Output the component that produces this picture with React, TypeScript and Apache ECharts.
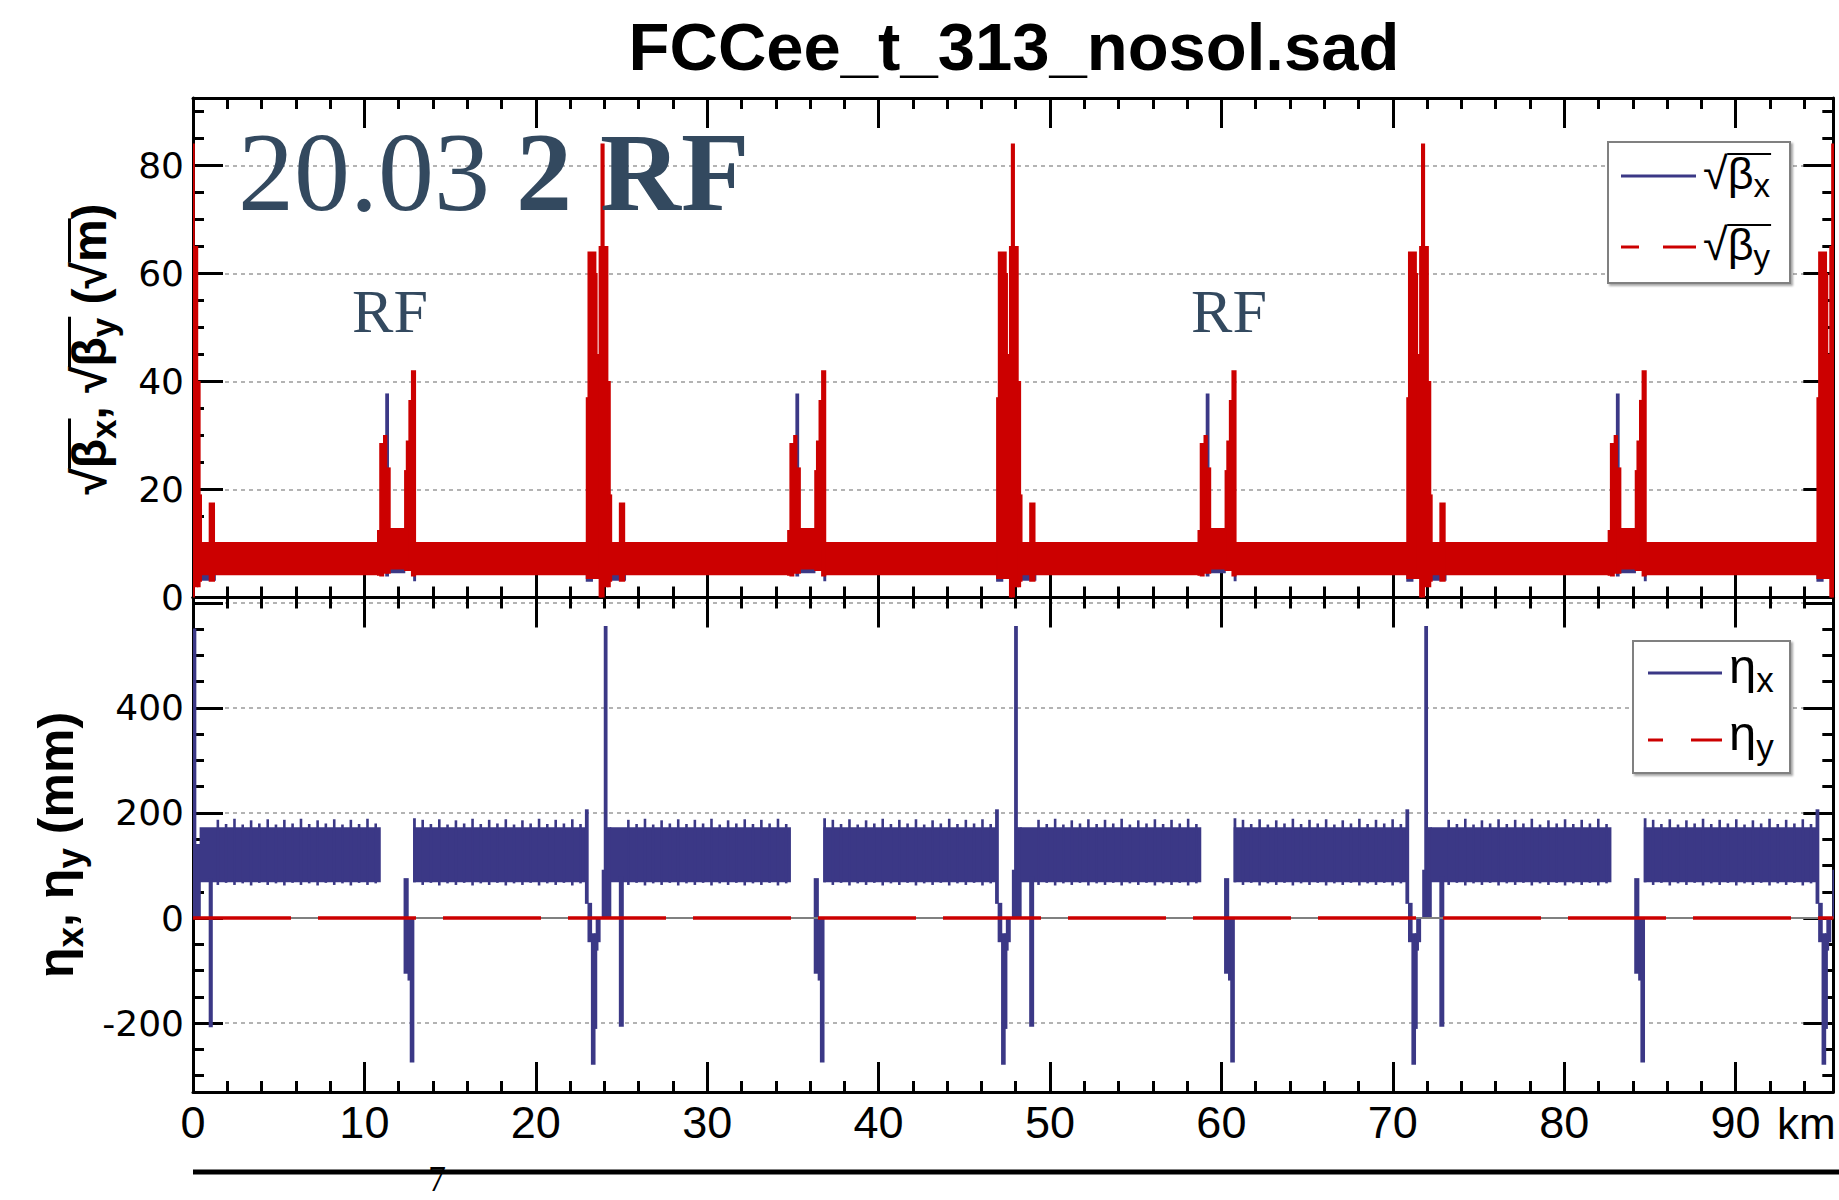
import React, { useEffect, useRef } from 'react';
import * as echarts from 'echarts';

const BLUE = '#3b3886';
const RED = '#cc0000';
const NAVY = '#33495f';

const X_MAX = 95.7;
const X_TICKS = [0, 10, 20, 30, 40, 50, 60, 70, 80, 90];
const Y1_TICKS = [0, 20, 40, 60, 80];
const Y2_TICKS = [-200, 0, 200, 400, 600];
const Y2_LABELS = [-200, 0, 200, 400];

// envelope blocks: [s from (km), s to (km), lower value, upper value]
const SQRT_BETA_Y: number[][] = [
  [0.0, 0.05, 0, 84], [0.05, 0.27, 2, 65], [0.27, 0.41, 2, 40], [0.41, 0.48, 3, 19],
  [0.45, 10.77, 4.2, 10.2], [0.95, 1.25, 3, 17.5],
  [10.77, 10.9, 4.1, 12.4], [10.9, 11.12, 4.0, 28.5], [11.12, 11.3, 4.5, 30], [11.3, 11.5, 4.5, 24],
  [11.5, 12.35, 5.3, 12.8], [12.35, 12.45, 5, 23.5], [12.45, 12.6, 5, 29], [12.6, 12.75, 5, 36.5], [12.75, 12.98, 4, 42],
  [12.98, 22.95, 4.2, 10.2],
  [22.95, 23.05, 3.5, 37], [23.05, 23.5, 3.5, 64], [23.5, 23.55, 3.5, 60], [23.55, 23.7, 3.5, 45], [23.7, 23.81, 0, 65], [23.81, 23.98, 0, 84],
  [23.98, 24.2, 2, 65], [24.2, 24.34, 2, 40], [24.34, 24.41, 3, 19],
  [24.38, 34.7, 4.2, 10.2], [24.88, 25.18, 3, 17.5],
  [34.7, 34.83, 4.1, 12.4], [34.83, 35.05, 4.0, 28.5], [35.05, 35.23, 4.5, 30], [35.23, 35.43, 4.5, 24],
  [35.43, 36.28, 5.3, 12.8], [36.28, 36.38, 5, 23.5], [36.38, 36.53, 5, 29], [36.53, 36.68, 5, 36.5], [36.68, 36.91, 4, 42],
  [36.91, 46.89, 4.2, 10.2],
  [46.89, 46.99, 3.5, 37], [46.99, 47.44, 3.5, 64], [47.44, 47.49, 3.5, 60], [47.49, 47.64, 3.5, 45], [47.64, 47.75, 0, 65], [47.75, 47.92, 0, 84],
  [47.92, 48.14, 2, 65], [48.14, 48.28, 2, 40], [48.28, 48.35, 3, 19],
  [48.32, 58.64, 4.2, 10.2], [48.82, 49.12, 3, 17.5],
  [58.64, 58.77, 4.1, 12.4], [58.77, 58.99, 4.0, 28.5], [58.99, 59.17, 4.5, 30], [59.17, 59.37, 4.5, 24],
  [59.37, 60.22, 5.3, 12.8], [60.22, 60.32, 5, 23.5], [60.32, 60.47, 5, 29], [60.47, 60.62, 5, 36.5], [60.62, 60.85, 4, 42],
  [60.85, 70.82, 4.2, 10.2],
  [70.82, 70.92, 3.5, 37], [70.92, 71.37, 3.5, 64], [71.37, 71.42, 3.5, 60], [71.42, 71.57, 3.5, 45], [71.57, 71.68, 0, 65], [71.68, 71.85, 0, 84],
  [71.85, 72.07, 2, 65], [72.07, 72.21, 2, 40], [72.21, 72.28, 3, 19],
  [72.25, 82.57, 4.2, 10.2], [72.75, 73.05, 3, 17.5],
  [82.57, 82.7, 4.1, 12.4], [82.7, 82.92, 4.0, 28.5], [82.92, 83.1, 4.5, 30], [83.1, 83.3, 4.5, 24],
  [83.3, 84.15, 5.3, 12.8], [84.15, 84.25, 5, 23.5], [84.25, 84.4, 5, 29], [84.4, 84.55, 5, 36.5], [84.55, 84.78, 4, 42],
  [84.78, 94.75, 4.2, 10.2],
  [94.75, 94.85, 3.5, 37], [94.85, 95.3, 3.5, 64], [95.3, 95.35, 3.5, 60], [95.35, 95.5, 3.5, 45], [95.5, 95.61, 0, 65], [95.61, 95.78, 0, 84],
];

const SQRT_BETA_X: number[][] = [
  [0.45, 1.3, 3.2, 5], [11.25, 11.4, 4, 37.7], [11.5, 12.35, 4.6, 6], [12.88, 12.98, 3.1, 8], [22.95, 23.3, 3.0, 5], [23.43, 23.53, 15, 44],
  [24.38, 25.23, 3.2, 5], [35.18, 35.33, 4, 37.7], [35.43, 36.28, 4.6, 6], [36.81, 36.91, 3.1, 8], [46.89, 47.24, 3.0, 5], [47.37, 47.47, 15, 44],
  [48.32, 49.17, 3.2, 5], [59.12, 59.27, 4, 37.7], [59.37, 60.22, 4.6, 6], [60.75, 60.85, 3.1, 8], [70.82, 71.17, 3.0, 5], [71.3, 71.4, 15, 44],
  [72.25, 73.1, 3.2, 5], [83.05, 83.2, 4, 37.7], [83.3, 84.15, 4.6, 6], [84.68, 84.78, 3.1, 8], [94.75, 95.1, 3.0, 5], [95.23, 95.33, 15, 44],
];

const ETA_X: number[][] = [
  [0.03, 0.16, 0, 550], [0.16, 0.42, 2, 140], [0.42, 10.92, 69, 172], [0.95, 1.12, -207, 75],
  [12.32, 12.55, -105, 75], [12.55, 12.68, -118, 0], [12.68, 12.88, -274, 0],
  [12.88, 22.9, 69, 172], [12.88, 12.96, 69, 189],
  [22.9, 23.05, 28, 206], [23.05, 23.25, -45, 28], [23.25, 23.45, -278, -30], [23.45, 23.55, -210, -30],
  [23.55, 23.6, -61, 0], [23.68, 23.72, -45, 0], [23.88, 23.99, 0, 91],
  [24.0, 24.15, 0, 555], [24.15, 24.37, 2, 172], [24.37, 34.85, 69, 172], [24.88, 25.1, -206, 78],
  [36.25, 36.48, -105, 75], [36.48, 36.61, -118, 0], [36.61, 36.81, -274, 0],
  [36.81, 46.83, 69, 172], [36.81, 36.89, 69, 189],
  [46.83, 46.98, 28, 206], [46.98, 47.18, -45, 28], [47.18, 47.38, -278, -30], [47.38, 47.48, -210, -30],
  [47.48, 47.53, -61, 0], [47.61, 47.65, -45, 0], [47.81, 47.92, 0, 91],
  [47.94, 48.09, 0, 555], [48.09, 48.31, 2, 172], [48.31, 58.79, 69, 172], [48.82, 49.04, -206, 78],
  [60.19, 60.42, -105, 75], [60.42, 60.55, -118, 0], [60.55, 60.75, -274, 0],
  [60.75, 70.77, 69, 172], [60.75, 60.83, 69, 189],
  [70.77, 70.92, 28, 206], [70.92, 71.12, -45, 28], [71.12, 71.32, -278, -30], [71.32, 71.42, -210, -30],
  [71.42, 71.47, -61, 0], [71.55, 71.59, -45, 0], [71.75, 71.86, 0, 91],
  [71.87, 72.02, 0, 555], [72.02, 72.24, 2, 172], [72.24, 82.72, 69, 172], [72.75, 72.97, -206, 78],
  [84.12, 84.35, -105, 75], [84.35, 84.48, -118, 0], [84.48, 84.68, -274, 0],
  [84.68, 94.7, 69, 172], [84.68, 84.76, 69, 189],
  [94.7, 94.85, 28, 206], [94.85, 95.05, -45, 28], [95.05, 95.25, -278, -30], [95.25, 95.35, -210, -30],
  [95.35, 95.4, -61, 0], [95.48, 95.52, -45, 0], [95.68, 95.79, 0, 91],
];

// arc cell peaks of eta_x (ragged band edges): [s (km), low, high]
const ETA_X_CELLS: number[][] = [
  [1.45, 63, 187], [1.93, 67, 179], [2.42, 63, 189], [2.9, 66, 178], [3.39, 62, 186], [3.87, 67, 180], [4.36, 63, 188], [4.84, 66, 178],
  [5.33, 62, 187], [5.81, 67, 180], [6.3, 63, 189], [6.78, 66, 179], [7.27, 62, 186], [7.75, 67, 180], [8.24, 63, 188], [8.72, 66, 178],
  [9.21, 62, 187], [9.69, 67, 179], [10.18, 63, 189], [10.66, 66, 180],
  [13.4, 63, 187], [13.88, 67, 179], [14.37, 62, 188], [14.85, 66, 178], [15.34, 63, 186], [15.82, 67, 180], [16.31, 62, 189], [16.79, 66, 179],
  [17.28, 63, 187], [17.76, 67, 180], [18.25, 62, 188], [18.73, 66, 178], [19.22, 63, 186], [19.7, 67, 180], [20.19, 62, 189], [20.67, 66, 179],
  [21.16, 63, 187], [21.64, 67, 180], [22.13, 62, 188], [22.61, 66, 179],
  [25.4, 63, 187], [25.88, 67, 179], [26.37, 62, 189], [26.85, 66, 178], [27.34, 63, 186], [27.82, 67, 180], [28.31, 62, 188], [28.79, 66, 179],
  [29.28, 63, 187], [29.76, 67, 180], [30.25, 62, 189], [30.73, 66, 178], [31.22, 63, 186], [31.7, 67, 180], [32.19, 62, 188], [32.67, 66, 179],
  [33.16, 63, 187], [33.64, 67, 180], [34.13, 62, 189], [34.61, 66, 179],
  [37.33, 63, 187], [37.81, 67, 179], [38.3, 62, 188], [38.78, 66, 178], [39.27, 63, 186], [39.75, 67, 180], [40.24, 62, 189], [40.72, 66, 179],
  [41.21, 63, 187], [41.69, 67, 180], [42.18, 62, 188], [42.66, 66, 178], [43.15, 63, 186], [43.63, 67, 180], [44.12, 62, 189], [44.6, 66, 179],
  [45.09, 63, 187], [45.57, 67, 180], [46.06, 62, 188], [46.54, 66, 179],
  [49.33, 63, 187], [49.81, 67, 179], [50.3, 62, 189], [50.78, 66, 178], [51.27, 63, 186], [51.75, 67, 180], [52.24, 62, 188], [52.72, 66, 179],
  [53.21, 63, 187], [53.69, 67, 180], [54.18, 62, 189], [54.66, 66, 178], [55.15, 63, 186], [55.63, 67, 180], [56.12, 62, 188], [56.6, 66, 179],
  [57.09, 63, 187], [57.57, 67, 180], [58.06, 62, 189], [58.54, 66, 179],
  [61.26, 63, 187], [61.74, 67, 179], [62.23, 62, 188], [62.71, 66, 178], [63.2, 63, 186], [63.68, 67, 180], [64.17, 62, 189], [64.65, 66, 179],
  [65.14, 63, 187], [65.62, 67, 180], [66.11, 62, 188], [66.59, 66, 178], [67.08, 63, 186], [67.56, 67, 180], [68.05, 62, 189], [68.53, 66, 179],
  [69.02, 63, 187], [69.5, 67, 180], [69.99, 62, 188], [70.47, 66, 179],
  [73.26, 63, 187], [73.74, 67, 179], [74.23, 62, 189], [74.71, 66, 178], [75.2, 63, 186], [75.68, 67, 180], [76.17, 62, 188], [76.65, 66, 179],
  [77.14, 63, 187], [77.62, 67, 180], [78.11, 62, 189], [78.59, 66, 178], [79.08, 63, 186], [79.56, 67, 180], [80.05, 62, 188], [80.53, 66, 179],
  [81.02, 63, 187], [81.5, 67, 180], [81.99, 62, 189], [82.47, 66, 179],
  [85.19, 63, 187], [85.67, 67, 179], [86.16, 62, 188], [86.64, 66, 178], [87.13, 63, 186], [87.61, 67, 180], [88.1, 62, 189], [88.58, 66, 179],
  [89.07, 63, 187], [89.55, 67, 180], [90.04, 62, 188], [90.52, 66, 178], [91.01, 63, 186], [91.49, 67, 180], [91.98, 62, 189], [92.46, 66, 179],
  [92.95, 63, 187], [93.43, 67, 180], [93.92, 62, 188], [94.4, 66, 179],
];

const ETA_Y: number[][] = [[0, 0], [X_MAX, 0]];

let measureCtx: CanvasRenderingContext2D | null = null;
function measure(text: string, font: string) {
  if (!measureCtx) measureCtx = document.createElement('canvas').getContext('2d');
  measureCtx!.font = font;
  return measureCtx!.measureText(text);
}

type Piece = { t: string; size: number; dy?: number; root?: boolean; endOver?: boolean };

function mathRow(pieces: Piece[], family: string, bold: boolean, color: string, overW: number, x0: number, y0: number) {
  const els: any[] = [];
  let x = x0;
  let ox: number | null = null;
  let oy = 0;
  const weight = bold ? 'bold' : 'normal';
  for (const p of pieces) {
    const m = measure(p.t, `${weight} ${p.size}px ${family}`);
    const base = y0 + (p.dy || 0);
    els.push({
      type: 'text', x, y: base - 0.3465 * p.size, z: 100,
      style: { text: p.t, fontSize: p.size, fontFamily: family, fontWeight: weight, fill: color, align: 'left', textAlign: 'left', verticalAlign: 'middle', textVerticalAlign: 'middle' },
    });
    if (p.root) {
      ox = x + m.actualBoundingBoxRight - overW * 0.4;
      oy = base - m.actualBoundingBoxAscent + overW / 2;
    }
    x += m.width;
    if (p.endOver && ox !== null) {
      els.push({ type: 'line', z: 100, shape: { x1: ox, y1: oy, x2: x + 1, y2: oy }, style: { stroke: color, lineWidth: overW } });
      ox = null;
    }
  }
  return { els, width: x - x0 };
}

function textEl(x: number, y: number, text: string, size: number, family: string, color: string, bold = false, align = 'left') {
  return {
    type: 'text', x, y, z: 100,
    style: { text, fontSize: size, fontFamily: family, fontWeight: bold ? 'bold' : 'normal', fill: color, align, textAlign: align, verticalAlign: 'middle', textVerticalAlign: 'middle' },
  };
}

function buildGraphics() {
  const els: any[] = [];
  // title
  els.push(textEl(1014, 46, 'FCCee_t_313_nosol.sad', 67, 'Liberation Sans', '#000', true, 'center'));
  // annotation
  els.push(textEl(238, 210 - 0.3375 * 112, '20.03', 112, 'Liberation Serif', NAVY));
  els.push(textEl(516, 210 - 0.3375 * 112, '2 RF', 112, 'Liberation Serif', NAVY, true));
  els.push(textEl(390, 311, 'RF', 62, 'Liberation Serif', NAVY, false, 'center'));
  els.push(textEl(1229, 311, 'RF', 62, 'Liberation Serif', NAVY, false, 'center'));

  // legend top
  els.push({ type: 'rect', z: 99, shape: { x: 1608, y: 142, width: 182, height: 141 }, style: { fill: '#fff', stroke: '#808080', lineWidth: 2, shadowColor: 'rgba(0,0,0,0.35)', shadowOffsetX: 2, shadowOffsetY: 2, shadowBlur: 2 } });
  els.push({ type: 'line', z: 100, shape: { x1: 1621, y1: 176, x2: 1696, y2: 176 }, style: { stroke: BLUE, lineWidth: 3 } });
  els.push({ type: 'line', z: 100, shape: { x1: 1621, y1: 247, x2: 1639, y2: 247 }, style: { stroke: RED, lineWidth: 3 } });
  els.push({ type: 'line', z: 100, shape: { x1: 1663, y1: 247, x2: 1696, y2: 247 }, style: { stroke: RED, lineWidth: 3 } });
  els.push(...mathRow([{ t: '√', size: 45, root: true }, { t: 'β', size: 45 }, { t: 'x', size: 33, dy: 8, endOver: true }], 'Liberation Sans', false, '#000', 2, 1703, 189).els);
  els.push(...mathRow([{ t: '√', size: 45, root: true }, { t: 'β', size: 45 }, { t: 'y', size: 33, dy: 8, endOver: true }], 'Liberation Sans', false, '#000', 2, 1703, 260).els);

  // legend bottom
  els.push({ type: 'rect', z: 99, shape: { x: 1633, y: 641, width: 157, height: 132 }, style: { fill: '#fff', stroke: '#808080', lineWidth: 2, shadowColor: 'rgba(0,0,0,0.35)', shadowOffsetX: 2, shadowOffsetY: 2, shadowBlur: 2 } });
  els.push({ type: 'line', z: 100, shape: { x1: 1648, y1: 673, x2: 1722, y2: 673 }, style: { stroke: BLUE, lineWidth: 3 } });
  els.push({ type: 'line', z: 100, shape: { x1: 1648, y1: 740, x2: 1663, y2: 740 }, style: { stroke: RED, lineWidth: 3 } });
  els.push({ type: 'line', z: 100, shape: { x1: 1691, y1: 740, x2: 1722, y2: 740 }, style: { stroke: RED, lineWidth: 3 } });
  els.push(...mathRow([{ t: 'η', size: 49 }, { t: 'x', size: 35, dy: 9 }], 'Liberation Sans', false, '#000', 2, 1729, 683).els);
  els.push(...mathRow([{ t: 'η', size: 49 }, { t: 'y', size: 35, dy: 9 }], 'Liberation Sans', false, '#000', 2, 1729, 750).els);

  // y-axis titles (rotated)
  const t1Pieces: Piece[] = [
    { t: '√', size: 48, root: true }, { t: 'β', size: 48 }, { t: 'x', size: 35, dy: 10, endOver: true },
    { t: ', ', size: 48 },
    { t: '√', size: 48, root: true }, { t: 'β', size: 48 }, { t: 'y', size: 35, dy: 10, endOver: true },
    { t: ' (', size: 48 }, { t: '√', size: 48, root: true }, { t: 'm', size: 48, endOver: true }, { t: ')', size: 48 },
  ];
  const w1 = mathRow(t1Pieces, 'Liberation Sans', true, '#000', 3, 0, 0).width;
  els.push({ type: 'group', x: 90, y: 349, rotation: Math.PI / 2, children: mathRow(t1Pieces, 'Liberation Sans', true, '#000', 3, -w1 / 2, 16).els });

  const t2Pieces: Piece[] = [
    { t: 'η', size: 50 }, { t: 'x', size: 37, dy: 10 }, { t: ', ', size: 50 },
    { t: 'η', size: 50 }, { t: 'y', size: 37, dy: 10 }, { t: ' (mm)', size: 50 },
  ];
  const w2 = mathRow(t2Pieces, 'Liberation Sans', true, '#000', 3, 0, 0).width;
  els.push({ type: 'group', x: 58, y: 845, rotation: Math.PI / 2, children: mathRow(t2Pieces, 'Liberation Sans', true, '#000', 3, -w2 / 2, 15).els });

  // km unit label
  els.push(textEl(1777, 1123, 'km', 44, 'Liberation Sans', '#000'));
  // slide footer line and page number
  els.push({ type: 'line', z: 100, shape: { x1: 193, y1: 1172, x2: 1839, y2: 1172 }, style: { stroke: '#000', lineWidth: 5 } });
  els.push(textEl(428, 1179, '7', 36, 'Liberation Serif', '#000'));
  return els;
}

function envelopeSeries(name: string, data: number[][], color: string, axis: number, z: number) {
  return {
    type: 'custom', name, data, xAxisIndex: axis, yAxisIndex: axis, z, clip: true, silent: true,
    encode: { x: [0, 1], y: [2, 3] },
    renderItem: (_p: any, api: any) => {
      const tl = api.coord([api.value(0), api.value(3)]);
      const br = api.coord([api.value(1), api.value(2)]);
      let x = tl[0] - 0.6;
      let w = br[0] - tl[0] + 1.2;
      if (w < 2.8) { x -= (2.8 - w) / 2; w = 2.8; }
      const y = tl[1] - 0.5;
      const h = Math.max(br[1] - tl[1] + 1, 1);
      return { type: 'rect', shape: { x, y, width: w, height: h }, style: { fill: color } };
    },
  };
}

function cellSeries(name: string, data: number[][], color: string, axis: number, z: number) {
  return {
    type: 'custom', name, data, xAxisIndex: axis, yAxisIndex: axis, z, clip: true, silent: true,
    encode: { x: 0, y: [1, 2] },
    renderItem: (_p: any, api: any) => {
      const top = api.coord([api.value(0), api.value(2)]);
      const bot = api.coord([api.value(0), api.value(1)]);
      return { type: 'rect', shape: { x: top[0] - 1.3, y: top[1], width: 2.6, height: bot[1] - top[1] }, style: { fill: color } };
    },
  };
}

const AX_LINE = { show: true, onZero: false, lineStyle: { color: '#000', width: 3 } };
const TICK_STYLE = { color: '#000', width: 3 };
const SPLIT = { show: true, lineStyle: { color: '#9a9a9a', width: 1.5, type: [4, 4] } };

function xAxis(gridIndex: number, position: string, labels: boolean) {
  return {
    type: 'value', gridIndex, position, min: 0, max: X_MAX, interval: 10,
    axisLine: AX_LINE,
    axisTick: { show: true, inside: true, length: 30, customValues: X_TICKS, lineStyle: TICK_STYLE },
    minorTick: { show: true, splitNumber: 5, length: 11, lineStyle: TICK_STYLE },
    splitLine: { show: false },
    axisLabel: labels
      ? { show: true, customValues: X_TICKS, margin: 8, fontSize: 45, fontFamily: 'Liberation Sans', color: '#000' }
      : { show: false },
  };
}

function yAxis(gridIndex: number, position: string, labels: boolean, lower: boolean) {
  const base: any = lower
    ? { min: -331, max: 610, splitNumber: 5 }
    : { min: 0, max: 92.5, interval: 20 };
  return {
    type: 'value', gridIndex, position, ...base,
    axisLine: AX_LINE,
    axisTick: { show: true, inside: true, length: 30, customValues: lower ? Y2_TICKS : Y1_TICKS, lineStyle: TICK_STYLE },
    minorTick: { show: true, splitNumber: 4, length: 11, lineStyle: TICK_STYLE },
    splitLine: labels ? SPLIT : { show: false },
    axisLabel: labels
      ? { show: true, customValues: lower ? Y2_LABELS : Y1_TICKS, margin: 9, fontSize: 36, fontFamily: 'DejaVu Sans', color: '#000' }
      : { show: false },
  };
}

export default function App() {
  const ref = useRef<HTMLDivElement>(null);
  useEffect(() => {
    if (!ref.current) return;
    const chart = echarts.init(ref.current, undefined, { renderer: 'svg' });
    const option: any = {
      animation: false,
      grid: [
        { left: 193, right: 5.7, top: 98, height: 499.5 },
        { left: 193, right: 5.7, top: 597.5, height: 494.5 },
      ],
      xAxis: [xAxis(0, 'bottom', false), xAxis(0, 'top', false), xAxis(1, 'bottom', true), xAxis(1, 'top', false)],
      yAxis: [yAxis(0, 'left', true, false), yAxis(0, 'right', false, false), yAxis(1, 'left', true, true), yAxis(1, 'right', false, true)],
      series: [
        envelopeSeries('√βx', SQRT_BETA_X, BLUE, 0, 2),
        envelopeSeries('√βy', SQRT_BETA_Y, RED, 0, 3),
        envelopeSeries('ηx', ETA_X, BLUE, 2, 2),
        cellSeries('ηx cells', ETA_X_CELLS, BLUE, 2, 2),
        { type: 'line', name: 'zero', data: ETA_Y, xAxisIndex: 2, yAxisIndex: 2, symbol: 'none', silent: true, z: 3, lineStyle: { color: '#808080', width: 2 } },
        { type: 'line', name: 'ηy', data: ETA_Y, xAxisIndex: 2, yAxisIndex: 2, symbol: 'none', silent: true, z: 4, lineStyle: { color: RED, width: 3.5, type: [98, 27] } },
      ],
      graphic: { elements: buildGraphics() },
    };
    chart.setOption(option);
    return () => chart.dispose();
  }, []);
  return <div ref={ref} style={{ position: 'absolute', left: 0, top: 0, width: 1839, height: 1200, background: '#fff' }} />;
}
